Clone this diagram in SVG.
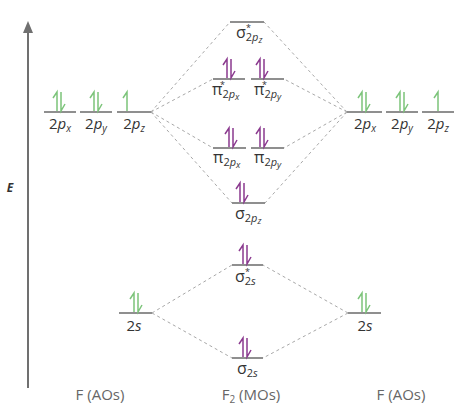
<svg xmlns="http://www.w3.org/2000/svg" width="474" height="414" viewBox="0 0 474 414">
<defs>
<style>
.lvl{stroke:#6a6a6a;stroke-width:1.5;fill:none}
.dash{stroke:#a8a8a8;stroke-width:1;stroke-dasharray:3 3;fill:none}
.g{stroke:#7cc47a;stroke-width:1.5;fill:none}
.p{stroke:#8b3a8f;stroke-width:1.5;fill:none}
text{font-family:"Open Sans","Liberation Sans",sans-serif;fill:#333}
.lab{font-size:15px}
.mo{font-size:16px}
.st{font-size:9px}
.bot{font-size:15px;fill:#666}
</style>
<g id="pairG"><path class="g" d="M-2,-1V-20l-4,6M2,-20V-1l4,-7"/></g>
<g id="upG"><path class="g" d="M0,-1V-20l-4,6"/></g>
<g id="pairP"><path class="p" d="M-2,-1V-20l-4,6M2,-20V-1l4,-7"/></g>
</defs>
<rect width="474" height="414" fill="#fff"/>
<g id="axis">
<line x1="28" y1="30" x2="28" y2="388" stroke="#707070" stroke-width="2"/>
<polygon points="28,21 23,33 33,33" fill="#707070"/>
<text x="10" y="192" font-size="12" font-weight="bold" font-style="italic" text-anchor="middle">E</text>
</g>
<g id="connectors">
<path class="dash" d="M151,112L230,22M151,112L213,79M151,112L213,148M151,112L232,203"/>
<path class="dash" d="M347,112L264,22M347,112L284,79M347,112L284,148M347,112L265,203"/>
<path class="dash" d="M152,313L232,265M152,313L232,358M348,313L263,265M348,313L263,358"/>
</g>
<g id="left-2px"><line class="lvl" x1="44" y1="112" x2="76" y2="112"/><use href="#pairG" x="59" y="112"/>
<text class="lab" x="60" y="129" text-anchor="middle">2<tspan font-style="italic">p</tspan><tspan font-style="italic" font-size="10" dy="3">x</tspan></text></g>
<g id="left-2py"><line class="lvl" x1="80" y1="112" x2="112" y2="112"/><use href="#pairG" x="96" y="112"/>
<text class="lab" x="96" y="129" text-anchor="middle">2<tspan font-style="italic">p</tspan><tspan font-style="italic" font-size="10" dy="3">y</tspan></text></g>
<g id="left-2pz"><line class="lvl" x1="117" y1="112" x2="151" y2="112"/><use href="#upG" x="127" y="112"/>
<text class="lab" x="134" y="129" text-anchor="middle">2<tspan font-style="italic">p</tspan><tspan font-style="italic" font-size="10" dy="3">z</tspan></text></g>
<g id="right-2px"><line class="lvl" x1="347" y1="112" x2="382" y2="112"/><use href="#pairG" x="364" y="112"/>
<text class="lab" x="365" y="129" text-anchor="middle">2<tspan font-style="italic">p</tspan><tspan font-style="italic" font-size="10" dy="3">x</tspan></text></g>
<g id="right-2py"><line class="lvl" x1="386" y1="112" x2="418" y2="112"/><use href="#pairG" x="402" y="112"/>
<text class="lab" x="402" y="129" text-anchor="middle">2<tspan font-style="italic">p</tspan><tspan font-style="italic" font-size="10" dy="3">y</tspan></text></g>
<g id="right-2pz"><line class="lvl" x1="422" y1="112" x2="454" y2="112"/><use href="#upG" x="438" y="112"/>
<text class="lab" x="438" y="129" text-anchor="middle">2<tspan font-style="italic">p</tspan><tspan font-style="italic" font-size="10" dy="3">z</tspan></text></g>
<g id="left-2s"><line class="lvl" x1="119" y1="313" x2="152" y2="313"/><use href="#pairG" x="136" y="313"/>
<text class="lab" x="134" y="331" text-anchor="middle">2<tspan font-style="italic">s</tspan></text></g>
<g id="right-2s"><line class="lvl" x1="348" y1="313" x2="381" y2="313"/><use href="#pairG" x="364" y="313"/>
<text class="lab" x="365" y="331" text-anchor="middle">2<tspan font-style="italic">s</tspan></text></g>
<g id="sigma-star-2pz"><line class="lvl" x1="230" y1="22" x2="264" y2="22"/>
<text class="mo" x="236" y="38">σ<tspan font-size="11" dy="3">2<tspan font-style="italic">p</tspan></tspan><tspan font-size="9" font-style="italic" dy="2">z</tspan></text>
<text class="st" x="246" y="31">*</text></g>
<g id="pi-star-2px"><line class="lvl" x1="213" y1="79" x2="245" y2="79"/><use href="#pairP" x="229" y="79"/>
<text class="mo" x="212" y="95">π<tspan font-size="11" dy="3">2<tspan font-style="italic">p</tspan></tspan><tspan font-size="9" font-style="italic" dy="2">x</tspan></text>
<text class="st" x="220" y="88">*</text></g>
<g id="pi-star-2py"><line class="lvl" x1="251" y1="79" x2="284" y2="79"/><use href="#pairP" x="262" y="79"/>
<text class="mo" x="254" y="95">π<tspan font-size="11" dy="3">2<tspan font-style="italic">p</tspan></tspan><tspan font-size="9" font-style="italic" dy="2">y</tspan></text>
<text class="st" x="262" y="88">*</text></g>
<g id="pi-2px"><line class="lvl" x1="213" y1="148" x2="246" y2="148"/><use href="#pairP" x="231" y="148"/>
<text class="mo" x="213" y="163">π<tspan font-size="11" dy="3">2<tspan font-style="italic">p</tspan></tspan><tspan font-size="9" font-style="italic" dy="2">x</tspan></text></g>
<g id="pi-2py"><line class="lvl" x1="251" y1="148" x2="284" y2="148"/><use href="#pairP" x="262" y="148"/>
<text class="mo" x="254" y="163">π<tspan font-size="11" dy="3">2<tspan font-style="italic">p</tspan></tspan><tspan font-size="9" font-style="italic" dy="2">y</tspan></text></g>
<g id="sigma-2pz"><line class="lvl" x1="232" y1="203" x2="265" y2="203"/><use href="#pairP" x="242" y="203"/>
<text class="mo" x="235" y="219">σ<tspan font-size="11" dy="3">2<tspan font-style="italic">p</tspan></tspan><tspan font-size="9" font-style="italic" dy="2">z</tspan></text></g>
<g id="sigma-star-2s"><line class="lvl" x1="232" y1="265" x2="263" y2="265"/><use href="#pairP" x="245" y="265"/>
<text class="mo" x="235" y="282">σ<tspan font-size="11" dy="3">2<tspan font-style="italic">s</tspan></tspan></text>
<text class="st" x="245" y="275">*</text></g>
<g id="sigma-2s"><line class="lvl" x1="232" y1="358" x2="263" y2="358"/><use href="#pairP" x="245" y="358"/>
<text class="mo" x="237" y="374">σ<tspan font-size="11" dy="3">2<tspan font-style="italic">s</tspan></tspan></text></g>
<g id="bottom-labels">
<text class="bot" x="100" y="400" text-anchor="middle">F (AOs)</text>
<text class="bot" x="251" y="400" text-anchor="middle">F<tspan font-size="10" dy="3">2</tspan><tspan dy="-3"> (MOs)</tspan></text>
<text class="bot" x="401" y="400" text-anchor="middle">F (AOs)</text>
</g>
</svg>
